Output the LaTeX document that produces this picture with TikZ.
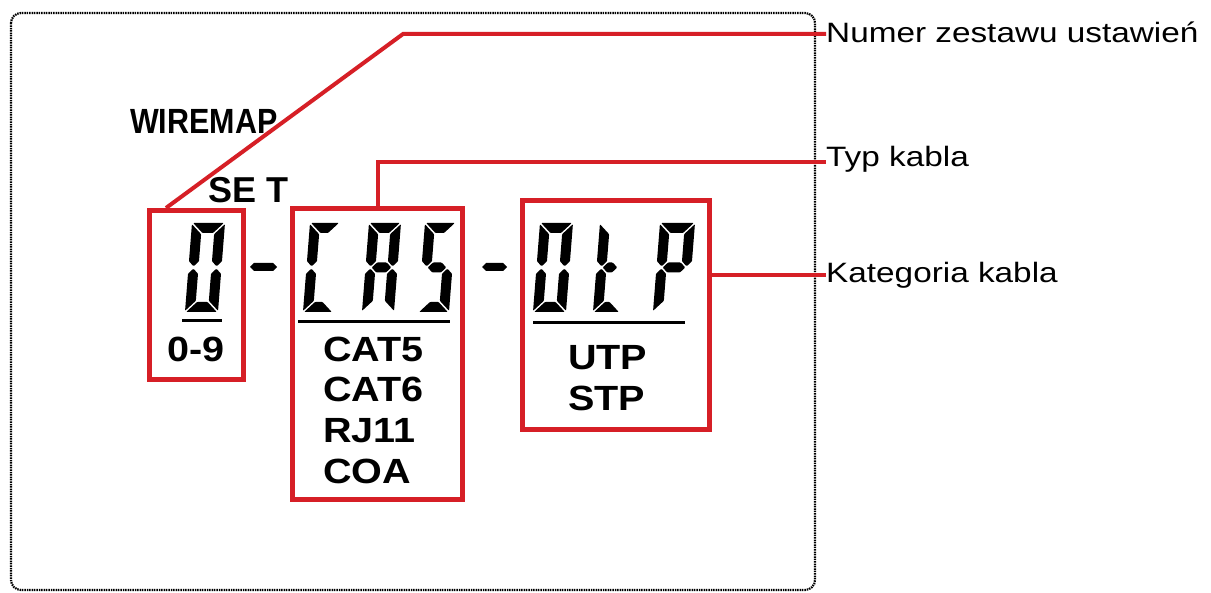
\documentclass[tikz,border=0pt]{standalone}
\usepackage{fontspec}
\setmainfont{Liberation Sans}
\newfontfamily\lblfont[FakeStretch=1.19]{Liberation Sans}
\newfontfamily\valfont[FakeStretch=1.13]{Liberation Sans}
\newfontfamily\wmfont[FakeStretch=0.87]{Liberation Sans}
\definecolor{lcdred}{RGB}{214,31,38}
\tikzset{
  segfill/.style={fill=black, rounded corners=0.8pt},
  redbox/.style={draw=lcdred, line width=5pt, inner sep=0pt},
  conn/.style={draw=lcdred, line width=4pt, line join=miter},
  lbl/.style={inner sep=0pt, anchor=base west, font=\lblfont\fontsize{28}{28}\selectfont},
  val/.style={inner sep=0pt, anchor=base west, font=\valfont\bfseries\fontsize{35}{35}\selectfont},
  frame/.style={draw=black, line width=2.2pt, dash pattern=on 1.5pt off 0.9pt, rounded corners=10pt},
  uline/.style={draw=black, line width=3pt}
}
\newcommand\lcdW{33}
\newcommand\sgA{\fill[segfill] (1.2,0) -- ({\lcdW-1.2},0) -- ({\lcdW-11.2},10) -- (11.2,10) -- cycle;}
\newcommand\sgD{\fill[segfill] (1.2,89) -- ({\lcdW-1.2},89) -- ({\lcdW-11.2},79) -- (11.2,79) -- cycle;}
\newcommand\sgF{\fill[segfill] (0,1.2) -- (10,11.2) -- (10,38.3) -- (5,43.3) -- (0,38.3) -- cycle;}
\newcommand\sgE{\fill[segfill] (0,87.8) -- (10,77.8) -- (10,50.7) -- (5,45.7) -- (0,50.7) -- cycle;}
\newcommand\sgB{\fill[segfill] (\lcdW,1.2) -- ({\lcdW-10},11.2) -- ({\lcdW-10},38.3) -- ({\lcdW-5},43.3) -- (\lcdW,38.3) -- cycle;}
\newcommand\sgC{\fill[segfill] (\lcdW,87.8) -- ({\lcdW-10},77.8) -- ({\lcdW-10},50.7) -- ({\lcdW-5},45.7) -- (\lcdW,50.7) -- cycle;}
\newcommand\sgG{\fill[segfill] (6.2,44.5) -- (11.2,39.5) -- ({\lcdW-11.2},39.5) -- ({\lcdW-6.2},44.5) -- ({\lcdW-11.2},49.5) -- (11.2,49.5) -- cycle;}
\newcommand\lcddigit[4]{%
  \begin{scope}[shift={(#1,#2)},xslant=0.079]
    \renewcommand\lcdW{#3}%
    \foreach \segname in {#4}{\csname sg\segname\endcsname}
  \end{scope}}
\begin{document}
\begin{tikzpicture}[x=1pt,y=-1pt]
\useasboundingbox (0,0) rectangle (1211,593);
\fill[white] (0,0) rectangle (1211,593);
% device outline
\draw[frame] (11,13) rectangle (815,590);

% texts on the display
\node[inner sep=0pt, anchor=base west, font=\wmfont\bfseries\fontsize{35}{35}\selectfont] (wm) at (130,134) {WIREMAP};
\node[inner sep=0pt, anchor=base west, font=\bfseries\fontsize{36}{36}\selectfont] (set) at (208,203) {SE T};

% digits
\lcddigit{192}{223}{33}{A,B,C,D,E,F}
\lcddigit{310}{223}{30}{A,D,E,F}
\lcddigit{369}{223}{32}{A,B,C,E,F,G}
\lcddigit{425}{223}{31}{A,F,G,C,D}
\lcddigit{540}{223}{33}{A,B,C,D,E,F}
\lcddigit{600}{223}{27}{F,E,D,G}
\lcddigit{660}{223}{35}{A,B,F,G,E}

% dashes
\fill (250,267) -- (254,263) -- (273,263) -- (277,267) -- (273,271) -- (254,271) -- cycle;
\fill (482,267) -- (486,263) -- (503,263) -- (507,267) -- (503,271) -- (486,271) -- cycle;

% underlines
\draw[uline] (182,321) -- (222,321);
\draw[uline] (298,322) -- (450,322);
\draw[uline] (533,323) -- (685,323);

% value lists
\node[val] (v0) at (167,362) {0-9};
\node[val] (c5) at (323,362) {CAT5};
\node[val] (c6) at (323,402) {CAT6};
\node[val] (rj) at (323,443) {RJ11};
\node[val] (co) at (323,484) {COA};
\node[val] (utp) at (568,370) {UTP};
\node[val] (stp) at (568,411) {STP};

% red boxes
\node[redbox, minimum width=94pt, minimum height=169pt] (b1) at (196.5,295) {};
\node[redbox, minimum width=170pt, minimum height=291pt] (b2) at (377.5,354) {};
\node[redbox, minimum width=187pt, minimum height=229pt] (b3) at (616,315) {};

% labels
\node[lbl] (lab1) at (826,43) {Numer zestawu ustawień};
\node[lbl] (lab2) at (826,167) {Typ kabla};
\node[lbl] (lab3) at (826,283) {Kategoria kabla};

% connectors
\coordinate (bend1) at (403,34);
\coordinate (row2) at (0,162);
\coordinate (row3) at (0,275);
\draw[conn] ([xshift=19pt]b1.north west) -- (bend1) -- (bend1 -| lab1.west);
\draw[conn] (b2.north) -- (b2.north |- row2) -- (row2 -| lab2.west);
\draw[conn] (b3.east |- row3) -- (row3 -| lab3.west);
\end{tikzpicture}
\end{document}
